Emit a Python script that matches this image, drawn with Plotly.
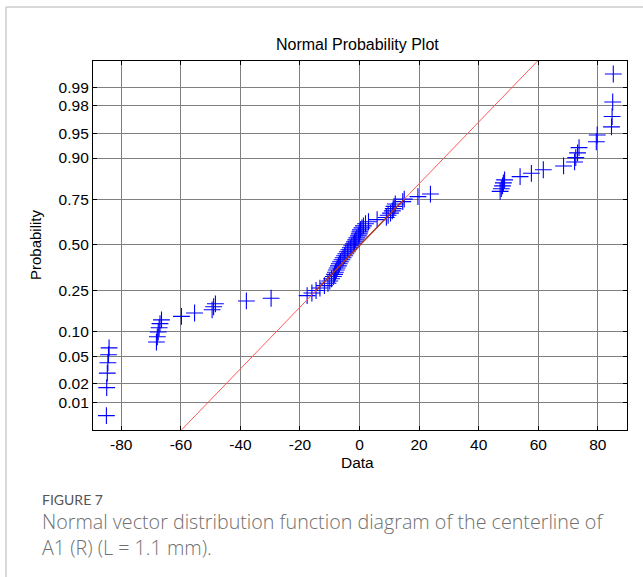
import numpy as np
import plotly.graph_objects as go
from statistics import NormalDist

# Sorted sample values
data_values = [
    -85.0, -84.9, -84.7, -84.5, -84.3, -84.1,
    -68.2, -67.9, -67.6, -67.3, -67.0, -66.5,
    -59.8, -55.4, -49.5, -49.0, -48.4, -38.0, -29.7,
    -17.6, -16.0, -14.6, -13.3, -11.8, -10.6, -10.0, -9.4, -8.8, -8.4,
    -8.1, -7.8, -7.5, -7.1, -6.8, -6.4, -5.9, -5.5, -5.0, -4.6,
    -4.1, -3.6, -3.1, -2.6, -2.1, -1.7, -1.3, -0.9, -0.4, -0.1,
    0.1, 0.3, 0.8, 1.3, 2.0, 3.0, 5.9, 9.0, 9.6, 10.4,
    11.0, 11.3, 11.6, 12.0, 14.5, 15.0, 19.6, 23.8,
    47.2, 47.6, 48.0, 48.3, 48.7, 53.9, 57.7, 61.7, 68.5,
    72.2, 72.6, 73.2, 73.7, 79.5, 79.8, 84.6, 84.8, 85.0, 85.2,
]

prob_tick_values = [0.01, 0.02, 0.05, 0.10, 0.25, 0.50, 0.75, 0.90, 0.95, 0.98, 0.99]
prob_tick_labels = ["0.01", "0.02", "0.05", "0.10", "0.25", "0.50", "0.75", "0.90", "0.95", "0.98", "0.99"]
x_tick_values = [-80, -60, -40, -20, 0, 20, 40, 60, 80]
x_tick_labels = ["-80", "-60", "-40", "-20", "0", "20", "40", "60", "80"]

nd = NormalDist()
n = len(data_values)
# plotting positions (i - 0.5) / n mapped to the normal probability scale
z_vals = [nd.inv_cdf((i - 0.5) / n) for i in range(1, n + 1)]

# reference line through the first and third quartiles
q1, q3 = np.percentile(np.array(data_values), [25, 75], method="hazen")
z25, z75 = nd.inv_cdf(0.25), nd.inv_cdf(0.75)
slope = (q3 - q1) / (z75 - z25)
center = q1 - slope * z25
ext_z = [-3.2, 3.2]
ext_x = [center + slope * v for v in ext_z]
mid_z = [z25, z75]
mid_x = [q1, q3]

fig = go.Figure()
fig.add_trace(go.Scatter(
    x=data_values, y=z_vals, mode="markers",
    marker=dict(symbol="cross-thin", size=12, line=dict(width=1.1, color="#0000ff")),
    showlegend=False, hoverinfo="skip",
))
fig.add_trace(go.Scatter(
    x=ext_x, y=ext_z, mode="lines",
    line=dict(color="#ff5a5a", width=1), showlegend=False, hoverinfo="skip",
))
fig.add_trace(go.Scatter(
    x=mid_x, y=mid_z, mode="lines",
    line=dict(color="#a8381c", width=1.4), showlegend=False, hoverinfo="skip",
))

font_family = "Liberation Sans, Arial, sans-serif"
axis_common = dict(
    showline=True, linecolor="black", linewidth=1.3, mirror="ticks",
    ticks="inside", ticklen=4, tickcolor="black",
    showgrid=True, gridcolor="#808080", gridwidth=1,
    zeroline=False, tickfont=dict(family=font_family, size=15.5, color="black"),
)

fig.update_layout(
    width=643, height=577,
    margin=dict(l=93, r=16, t=61, b=147),
    paper_bgcolor="white", plot_bgcolor="white",
    xaxis=dict(range=[-89.5, 89.8], tickvals=x_tick_values, ticktext=x_tick_labels, **axis_common),
    yaxis=dict(range=[-2.735, 2.715],
               tickvals=[nd.inv_cdf(p) for p in prob_tick_values],
               ticktext=prob_tick_labels, **axis_common),
    annotations=[
        dict(text="Normal Probability Plot", xref="paper", yref="paper",
             x=0.496, y=(430 - 44) / 369, xanchor="center", yanchor="middle",
             showarrow=False, font=dict(family=font_family, size=16, color="black")),
        dict(text="Data", xref="paper", yref="paper",
             x=0.496, y=(430 - 462) / 369, xanchor="center", yanchor="middle",
             showarrow=False, font=dict(family=font_family, size=15.5, color="black")),
        dict(text="Probability", xref="paper", yref="paper",
             x=(35 - 93) / 534, y=(430 - 245) / 369, xanchor="center", yanchor="middle",
             textangle=-90, showarrow=False,
             font=dict(family=font_family, size=15, color="black")),
        dict(text="FIGURE 7", xref="paper", yref="paper",
             x=(40 - 93) / 534, y=(430 - 500) / 369, xanchor="left", yanchor="middle",
             showarrow=False, font=dict(family="Lato, Open Sans, sans-serif", size=14, color="#555555")),
        dict(text="Normal vector distribution function diagram of the centerline of<br>A1 (R) (L = 1.1 mm).",
             xref="paper", yref="paper", align="left",
             x=(40 - 93) / 534, y=(430 - 506) / 369, xanchor="left", yanchor="top",
             showarrow=False,
             font=dict(family="Open Sans, Lato, sans-serif", size=19.7, color="#707070", weight=300)),
    ],
    shapes=[
        dict(type="line", xref="paper", yref="paper",
             x0=(6 - 93) / 534, x1=(643 - 93) / 534, y0=(430 - 7) / 369, y1=(430 - 7) / 369,
             line=dict(color="#cccccc", width=1.5)),
        dict(type="line", xref="paper", yref="paper",
             x0=(6 - 93) / 534, x1=(6 - 93) / 534, y0=(430 - 7) / 369, y1=(430 - 577) / 369,
             line=dict(color="#cccccc", width=1.5)),
    ],
)

fig.write_html("out.html")
